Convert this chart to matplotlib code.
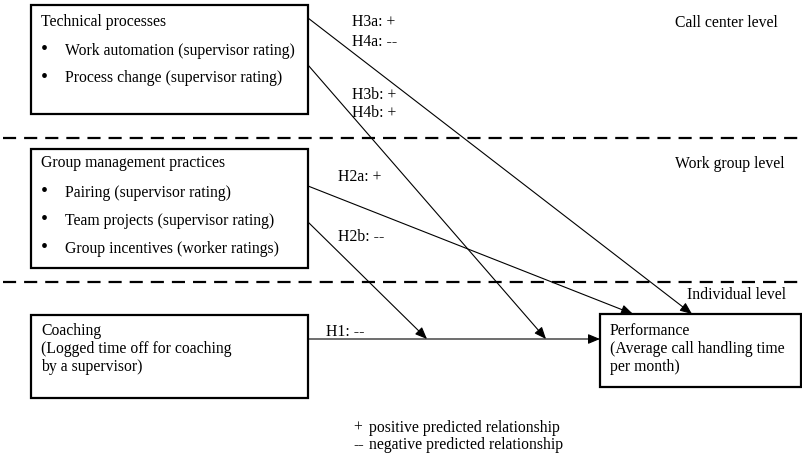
import matplotlib.pyplot as plt
from matplotlib.patches import Rectangle

plt.rcParams['font.family'] = ['Liberation Serif', 'DejaVu Serif']

# texts of the diagram
box_titles = ['Technical processes', 'Group management practices', 'Coaching', 'Performance']
tech_items = ['Work automation (supervisor rating)', 'Process change (supervisor rating)']
group_items = ['Pairing (supervisor rating)', 'Team projects (supervisor rating)',
               'Group incentives (worker ratings)']
coach_lines = ['(Logged time off for coaching', 'by a supervisor)']
perf_lines = ['(Average call handling time', 'per month)']
levels = ['Call center level', 'Work group level', 'Individual level']
hyp_labels = ['H3a: +', 'H4a: --', 'H3b: +', 'H4b: +', 'H2a: +', 'H2b: --', 'H1: --']
legend_signs = ['+', '--']
legend_texts = ['positive predicted relationship', 'negative predicted relationship']

# layout (pixel coords, y down)
boxes = [(31, 5, 308, 114), (31, 149, 308, 268), (31, 315, 308, 398), (600, 314, 801, 387)]
dash_y = [138, 282]
level_pos = [(675, 23), (675, 164), (687, 295)]
hyp_pos = [(352, 22), (352, 42), (352, 95), (352, 113), (338, 177), (338, 237), (326, 332)]
arrows = [((308, 18), (692, 314)), ((308, 65), (546, 339)),
          ((308, 186), (633, 314)), ((308, 222), (427, 339)),
          ((308, 339), (600, 339))]

fs = 11.3
fig = plt.figure(figsize=(8.03, 4.53), dpi=100)
ax = fig.add_axes([0, 0, 1, 1])
ax.set_xlim(0, 803)
ax.set_ylim(453, 0)
ax.axis('off')

for (x0, y0, x1, y1) in boxes:
    ax.add_patch(Rectangle((x0, y0), x1 - x0, y1 - y0, fill=False, lw=1.6, ec='black'))

for y in dash_y:
    ax.plot([3, 803], [y, y], color='black', lw=1.6, dashes=(5.9, 3.6))

# box contents
ax.text(41, 22, box_titles[0], fontsize=fs, va='center')
for i, t in enumerate(tech_items):
    y = 51 + i * 27
    ax.text(44, y, '•', fontsize=fs + 3, va='center', ha='center')
    ax.text(65, y, t, fontsize=fs, va='center')

ax.text(41, 163, box_titles[1], fontsize=fs, va='center')
for i, t in enumerate(group_items):
    y = 193 + i * 28
    ax.text(44, y, '•', fontsize=fs + 3, va='center', ha='center')
    ax.text(65, y, t, fontsize=fs, va='center')

for i, t in enumerate([box_titles[2]] + coach_lines):
    ax.text(41, 331 + i * 18, t, fontsize=fs, va='center')
for i, t in enumerate([box_titles[3]] + perf_lines):
    ax.text(610, 331 + i * 18, t, fontsize=fs, va='center')

for t, (x, y) in zip(levels, level_pos):
    ax.text(x, y, t, fontsize=fs, va='center')
for t, (x, y) in zip(hyp_labels, hyp_pos):
    ax.text(x, y, t, fontsize=fs, va='center')

for (s, e) in arrows:
    ax.annotate('', xy=e, xytext=s,
                arrowprops=dict(arrowstyle='-|>,head_length=0.6,head_width=0.25',
                                color='black', lw=0.8, shrinkA=0, shrinkB=0,
                                mutation_scale=12))

for i, (s, t) in enumerate(zip(legend_signs, legend_texts)):
    y = 428 + i * 17
    ax.text(353, y, s, fontsize=fs, va='center')
    ax.text(369, y, t, fontsize=fs, va='center')

fig.savefig('out.png', dpi=100)
